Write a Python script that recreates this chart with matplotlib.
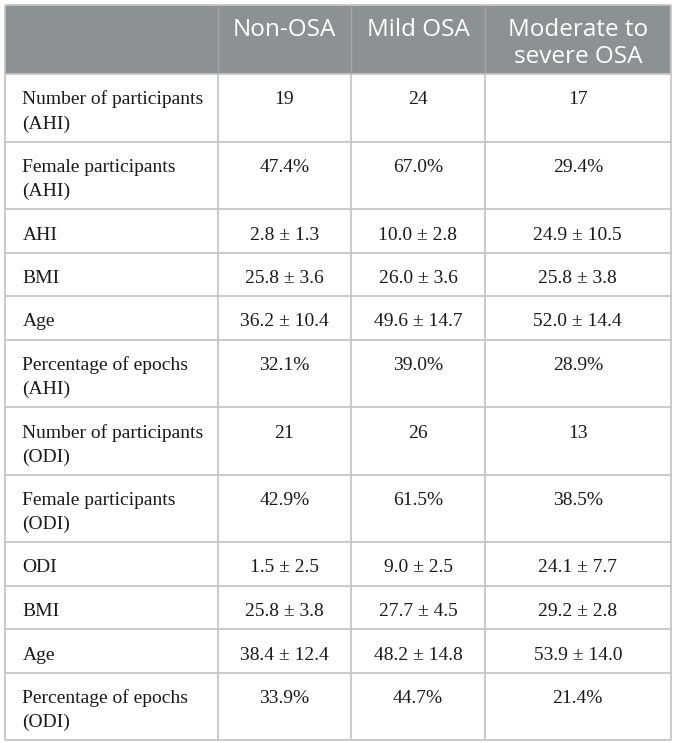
import matplotlib
matplotlib.use('Agg')
from matplotlib import pyplot as plt
import matplotlib.patches as patches

# 表格数据
columns = ['Non-OSA', 'Mild OSA', 'Moderate to\nsevere OSA']
row_labels = ['Number of participants\n(AHI)', 'Female participants\n(AHI)', 'AHI', 'BMI', 'Age',
              'Percentage of epochs\n(AHI)', 'Number of participants\n(ODI)', 'Female participants\n(ODI)',
              'ODI', 'BMI', 'Age', 'Percentage of epochs\n(ODI)']
non_osa = ['19', '47.4%', '2.8 ± 1.3', '25.8 ± 3.6', '36.2 ± 10.4', '32.1%',
           '21', '42.9%', '1.5 ± 2.5', '25.8 ± 3.8', '38.4 ± 12.4', '33.9%']
mild_osa = ['24', '67.0%', '10.0 ± 2.8', '26.0 ± 3.6', '49.6 ± 14.7', '39.0%',
            '26', '61.5%', '9.0 ± 2.5', '27.7 ± 4.5', '48.2 ± 14.8', '44.7%']
severe_osa = ['17', '29.4%', '24.9 ± 10.5', '25.8 ± 3.8', '52.0 ± 14.4', '28.9%',
              '13', '38.5%', '24.1 ± 7.7', '29.2 ± 2.8', '53.9 ± 14.0', '21.4%']

W, H = 673, 743
fig = plt.figure(figsize=(W / 100, H / 100), dpi=100)
ax = fig.add_axes([0, 0, 1, 1])
ax.set_xlim(0, W)
ax.set_ylim(H, 0)
ax.axis('off')

# 布局参数(像素)
col_x = [4.5, 217.5, 351, 485, 670.5]
top = 5
header_h = 69
line_h = {1: 43.5, 2: 67.5}
line_color = '#c6c6c6'
header_color = '#8c9293'

# 行边界
row_y = [top, top + header_h]
for lab in row_labels:
    row_y.append(row_y[-1] + line_h[lab.count('\n') + 1])

# 表头背景
ax.add_patch(patches.Rectangle((col_x[0], row_y[0]), col_x[-1] - col_x[0], header_h,
                               facecolor=header_color, edgecolor='none', zorder=1))

# 表头文字
for j, name in enumerate(columns):
    cx = (col_x[j + 1] + col_x[j + 2]) / 2
    for k, line in enumerate(name.split('\n')):
        ax.text(cx, row_y[0] + 31 + 27 * k, line, ha='center', va='baseline', color='white',
                fontsize=17.5, family='Open Sans', zorder=3)

# 表体文字
serif = dict(fontsize=14, family='Liberation Serif', color='#1a1a1a', va='baseline', zorder=3)
for i, lab in enumerate(row_labels):
    y0 = row_y[i + 1] + 30.5
    for k, line in enumerate(lab.split('\n')):
        ax.text(col_x[0] + 18, y0 + 24 * k, line, ha='left', **serif)
    for j, vals in enumerate([non_osa, mild_osa, severe_osa]):
        cx = (col_x[j + 1] + col_x[j + 2]) / 2
        ax.text(cx, y0, vals[i], ha='center', **serif)

# 网格线
ax.hlines(row_y[1:], col_x[0], col_x[-1], color=line_color, lw=1.3, zorder=2)
ax.hlines(row_y[0], col_x[0], col_x[-1], color=line_color, lw=1.3, zorder=2)
for x in col_x:
    ax.vlines(x, row_y[1], row_y[-1], color=line_color, lw=1.3, zorder=2)
for x in col_x[1:-1]:
    ax.vlines(x, row_y[0], row_y[1], color='#a3a8a9', lw=1.0, zorder=2)
for x in [col_x[0], col_x[-1]]:
    ax.vlines(x, row_y[0], row_y[1], color=line_color, lw=1.3, zorder=2)

fig.savefig('out.png', dpi=100)
